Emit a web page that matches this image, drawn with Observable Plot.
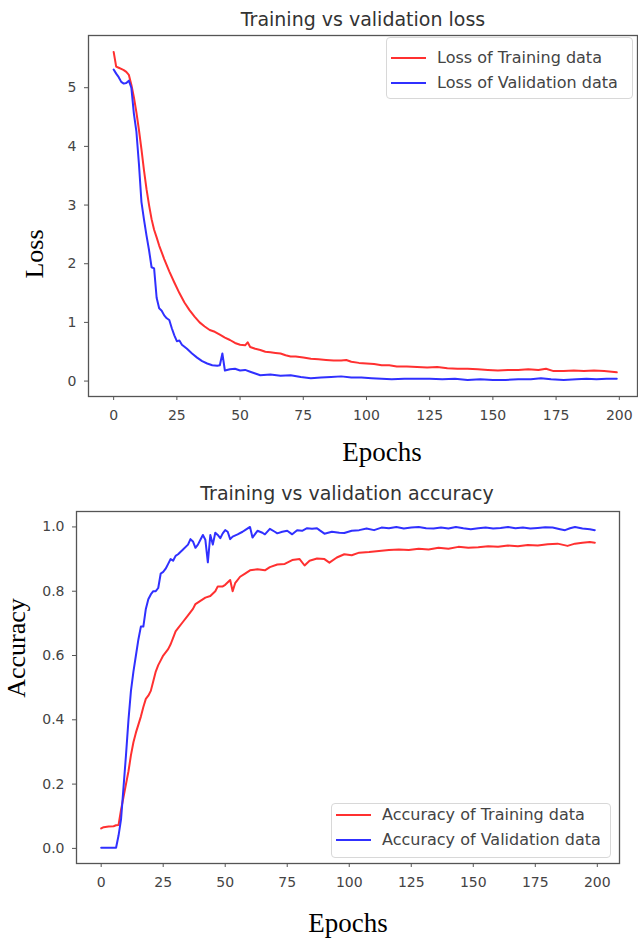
<!DOCTYPE html>
<html>
<head>
<meta charset="utf-8">
<script src="https://cdn.jsdelivr.net/npm/d3@7"></script>
<script src="https://cdn.jsdelivr.net/npm/@observablehq/plot@0.6"></script>
<style>
  html, body { margin: 0; padding: 0; background: #fff; }
  #wrap { position: relative; width: 638px; height: 945px; overflow: hidden; font-family: "DejaVu Sans", sans-serif; }
  .abs { position: absolute; }
  .title { font-size: 19px; line-height: 22px; color: #333; white-space: nowrap; transform: translateX(-50%); }
  .xlab { font-family: "Liberation Serif", "Times New Roman", serif; font-size: 27px; line-height: 30px; color: #000; white-space: nowrap; transform: translateX(-50%); }
  .ylab { font-family: "Liberation Serif", "Times New Roman", serif; font-size: 26px; line-height: 30px; color: #000; white-space: nowrap; transform: translate(-50%, -50%) rotate(-90deg); }
  .legend { background: #fff; border: 1px solid #d8d8d8; border-radius: 4px; box-sizing: border-box; }
  .lg-line { position: absolute; height: 2px; width: 35px; }
  .lg-text { position: absolute; font-size: 16px; line-height: 18px; color: #444; white-space: nowrap; transform: translateY(-50%); }
</style>
</head>
<body>
<div id="wrap"></div>
<script>
// ---------- data ----------
const lossTrainEpochs = [0,1,2,3,4,5,6,7,8,9,10,11,12,13,14,15,16,17,18,20,22,24,26,28,30,32,34,36,38,40,42,44,46,48,50,52,53,54,56,58,60,62,64,66,68,70,72,75,78,81,84,87,90,92,94,97,100,103,106,109,112,116,120,124,128,132,136,140,144,148,152,156,160,164,168,171,174,178,182,186,190,194,197,199];
const lossTrain = [5.61,5.36,5.34,5.32,5.30,5.27,5.22,5.05,4.84,4.58,4.28,3.95,3.59,3.27,3.00,2.76,2.58,2.45,2.31,2.08,1.87,1.68,1.50,1.34,1.21,1.10,1.00,0.93,0.87,0.84,0.79,0.74,0.70,0.65,0.62,0.61,0.66,0.58,0.55,0.53,0.50,0.49,0.48,0.47,0.44,0.42,0.42,0.40,0.38,0.37,0.36,0.35,0.35,0.36,0.33,0.31,0.30,0.29,0.27,0.27,0.25,0.25,0.24,0.23,0.24,0.22,0.21,0.21,0.20,0.19,0.18,0.19,0.19,0.20,0.19,0.21,0.17,0.17,0.18,0.17,0.18,0.17,0.16,0.15];

const lossValEpochs = [0,1,2,3,4,5,6,7,8,9,10,11,12,13,14,15,16,17,18,19,20,21,22,23,24,25,26,27,29,31,33,35,37,39,41,42,43,44,46,48,50,52,54,56,58,62,66,70,74,78,82,86,90,94,98,102,106,110,115,120,125,130,135,140,145,150,155,160,165,169,173,178,183,187,191,195,199];
const lossVal = [5.31,5.24,5.18,5.10,5.07,5.08,5.12,5.00,4.56,4.25,3.70,3.05,2.75,2.48,2.23,1.94,1.92,1.42,1.24,1.20,1.12,1.07,1.04,0.90,0.78,0.68,0.69,0.62,0.55,0.47,0.40,0.34,0.30,0.27,0.26,0.27,0.47,0.18,0.20,0.21,0.18,0.19,0.16,0.13,0.10,0.11,0.09,0.10,0.07,0.05,0.06,0.07,0.08,0.06,0.06,0.05,0.04,0.03,0.04,0.04,0.04,0.03,0.04,0.02,0.03,0.02,0.02,0.03,0.03,0.05,0.03,0.02,0.03,0.04,0.03,0.04,0.04];

const accTrainEpochs = [0,1,3,5,6,7,8,9,10,11,12,13,14,15,16,17,18,19,20,21,22,23,24,25,27,28,29,30,31,33,35,37,38,40,42,44,46,47,49,50,52,53,54,56,58,60,63,66,68,71,74,77,80,82,84,87,90,92,95,98,101,104,108,112,116,120,124,128,132,136,140,144,148,152,156,160,164,168,172,176,180,184,188,191,194,197,199];
const accTrain = [0.062,0.066,0.068,0.069,0.072,0.073,0.12,0.16,0.20,0.24,0.29,0.33,0.36,0.385,0.41,0.44,0.465,0.475,0.49,0.52,0.55,0.57,0.585,0.60,0.62,0.635,0.655,0.675,0.685,0.705,0.725,0.745,0.76,0.77,0.78,0.785,0.80,0.815,0.815,0.82,0.835,0.80,0.825,0.845,0.855,0.865,0.868,0.865,0.875,0.883,0.885,0.897,0.90,0.88,0.895,0.902,0.90,0.889,0.905,0.915,0.912,0.92,0.922,0.925,0.928,0.93,0.928,0.932,0.93,0.935,0.932,0.938,0.935,0.937,0.94,0.938,0.942,0.94,0.944,0.942,0.946,0.948,0.941,0.948,0.951,0.953,0.951];

const accValEpochs = [0,3,6,7,8,9,10,11,12,13,14,15,16,17,18,19,20,21,22,23,24,25,26,27,28,29,30,31,33,35,36,37,38,39,40,41,42,43,44,45,46,47,48,49,50,51,52,53,55,57,58,60,61,63,65,66,68,70,71,73,75,77,79,81,83,85,87,88,90,93,96,98,101,104,107,110,113,116,119,122,125,128,131,134,137,140,143,146,149,152,155,158,161,164,167,170,173,176,179,182,185,187,189,191,194,197,199];
const accVal = [0.002,0.002,0.002,0.04,0.09,0.19,0.29,0.40,0.49,0.55,0.60,0.65,0.69,0.69,0.745,0.775,0.79,0.80,0.80,0.81,0.855,0.86,0.87,0.885,0.90,0.895,0.91,0.915,0.93,0.945,0.962,0.955,0.935,0.945,0.96,0.975,0.96,0.89,0.975,0.945,0.982,0.975,0.965,0.98,0.99,0.985,0.962,0.97,0.977,0.985,0.99,1.0,0.967,0.988,0.982,0.977,0.994,0.985,0.98,0.985,0.988,0.977,0.99,0.988,0.996,0.994,0.996,0.99,0.979,0.985,0.982,0.981,0.988,0.99,0.995,0.99,0.998,0.996,1.0,0.995,0.998,1.0,0.996,0.995,0.998,0.995,1.0,0.996,0.993,0.996,0.998,0.995,0.997,1.0,0.996,0.998,0.995,0.997,0.999,0.998,0.993,0.99,0.996,1.0,0.995,0.993,0.99];

const epochTicks = [0,25,50,75,100,125,150,175,200];
const lossTicks = [0,1,2,3,4,5];
const accTicks = [0,0.2,0.4,0.6,0.8,1.0];

const titles = ["Training vs validation loss", "Training vs validation accuracy"];
const xLabel = "Epochs";
const yLabels = ["Loss", "Accuracy"];
const legendLoss = ["Loss of Training data", "Loss of Validation data"];
const legendAcc = ["Accuracy of Training data", "Accuracy of Validation data"];
const seriesColors = ["#ff3030", "#3030ff"];

// ---------- helpers ----------
const zip = (xs, ys) => xs.map((x, i) => ({x, y: ys[i]}));
const wrap = document.getElementById("wrap");
function place(el, left, top) { el.style.left = left + "px"; el.style.top = top + "px"; wrap.appendChild(el); return el; }
function div(cls, text) { const d = document.createElement("div"); d.className = "abs " + cls; if (text != null) d.textContent = text; return d; }

const axisStyle = {fontSize: "14px", fontFamily: "DejaVu Sans, sans-serif", color: "#444", background: "transparent", overflow: "visible"};

// ---------- top chart: loss ----------
const lossPlot = Plot.plot({
  width: 638, height: 430,
  marginTop: 35, marginBottom: 34, marginLeft: 88, marginRight: 1,
  style: axisStyle,
  x: {domain: [-9.95, 207.2]},
  y: {domain: [-0.263, 5.89]},
  marks: [
    Plot.frame({stroke: "#555", strokeWidth: 1.3}),
    Plot.axisY({ticks: lossTicks, tickFormat: d3.format("d"), tickSize: 4, tickPadding: 8, label: null, stroke: "#555"}),
    Plot.axisX({ticks: epochTicks, tickSize: 4, tickPadding: 10, label: null, stroke: "#555"}),
    Plot.line(zip(lossTrainEpochs, lossTrain), {x: "x", y: "y", stroke: seriesColors[0], strokeWidth: 2, curve: "linear"}),
    Plot.line(zip(lossValEpochs, lossVal), {x: "x", y: "y", stroke: seriesColors[1], strokeWidth: 2, curve: "linear"})
  ]
});
lossPlot.style.position = "absolute"; lossPlot.style.left = "0px"; lossPlot.style.top = "0px";
wrap.appendChild(lossPlot);

// ---------- bottom chart: accuracy ----------
const accPlot = Plot.plot({
  width: 638, height: 410,
  marginTop: 31, marginBottom: 27, marginLeft: 76, marginRight: 19,
  style: axisStyle,
  x: {domain: [-9.95, 208.95]},
  y: {domain: [-0.047, 1.048]},
  marks: [
    Plot.frame({stroke: "#555", strokeWidth: 1.3}),
    Plot.axisY({ticks: accTicks, tickFormat: d3.format(".1f"), tickSize: 4, tickPadding: 8, label: null, stroke: "#555"}),
    Plot.axisX({ticks: epochTicks, tickSize: 4, tickPadding: 10, label: null, stroke: "#555"}),
    Plot.line(zip(accTrainEpochs, accTrain), {x: "x", y: "y", stroke: seriesColors[0], strokeWidth: 2}),
    Plot.line(zip(accValEpochs, accVal), {x: "x", y: "y", stroke: seriesColors[1], strokeWidth: 2})
  ]
});
accPlot.style.position = "absolute"; accPlot.style.left = "0px"; accPlot.style.top = "480px";
wrap.appendChild(accPlot);

// ---------- titles & labels ----------
place(div("title", titles[0]), 363, 8);
place(div("title", titles[1]), 347, 482);
place(div("xlab", xLabel), 382, 437);
place(div("xlab", xLabel), 348, 908);
place(div("ylab", yLabels[0]), 35, 254);
place(div("ylab", yLabels[1]), 17, 648);

// ---------- legends ----------
function legend(left, top, w, h, labels, rows, lineX, textX) {
  const box = place(div("legend"), left, top);
  box.style.width = w + "px"; box.style.height = h + "px";
  labels.forEach((t, i) => {
    const ln = div("lg-line"); ln.style.background = seriesColors[i];
    place(ln, lineX, rows[i] - 1);
    place(div("lg-text", t), textX, rows[i]);
  });
}
legend(386, 37, 247, 62, legendLoss, [58, 83], 391, 437);
legend(331, 803, 280, 55, legendAcc, [815, 840], 336, 382);
</script>
</body>
</html>
